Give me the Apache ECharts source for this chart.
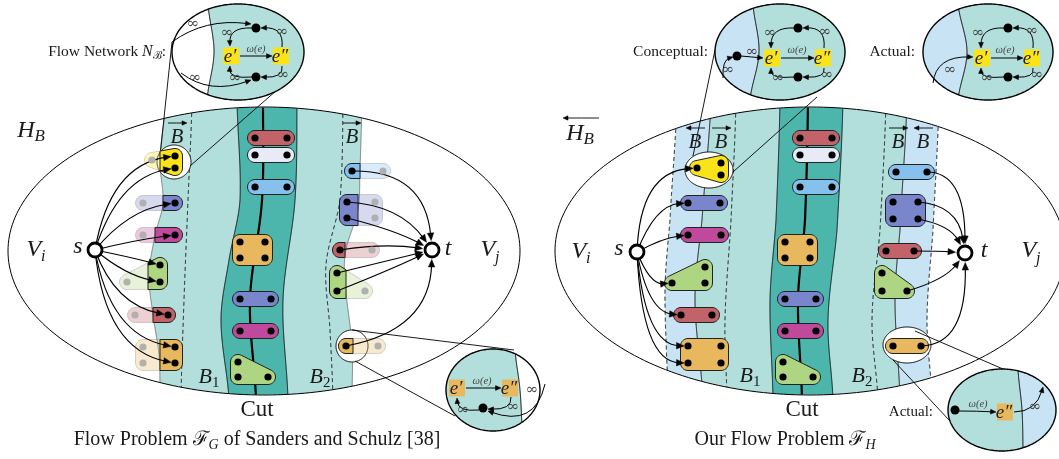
<!DOCTYPE html>
<html><head><meta charset="utf-8">
<script src="https://cdn.jsdelivr.net/npm/echarts@6/dist/echarts.min.js"></script>
<style>html,body{margin:0;padding:0;background:#fff}#c{width:1059px;height:459px}</style>
</head><body><div id="c"></div>
<script>
// ---------------- DATA ----------------
// region ellipses [cx, cy, rx, ry]
const regionEllipses = [[264,251,256,144],[810,251,255,144]];
// band edges: control points [y, x]
const edges = {
  L_tealL: [[100,166],[160,160],[203,163],[235,155],[275,149],[315,153],[355,159],[400,160]],
  L_dash1: [[100,192],[200,188],[300,184],[400,181]],
  L_darkL: [[100,237],[200,240],[260,229],[320,221],[400,229]],
  L_cut:   [[100,263],[200,262],[300,250],[400,256]],
  L_darkR: [[100,297],[200,295],[300,283],[400,288]],
  L_dash2: [[100,343],[200,340],[265,326],[330,330],[400,333]],
  L_tealR: [[100,362],[171,360],[210,358],[250,346],[280,345],[346,352],[400,352]],
  R_blueL: [[100,677],[220,670],[290,665],[400,668]],
  R_solid1:[[100,711],[220,702],[300,695],[400,703]],
  R_dash1: [[100,736],[220,731],[320,725],[400,727]],
  R_darkL: [[100,780],[220,776],[300,770],[400,773]],
  R_cut:   [[100,808],[220,805],[300,798],[400,802]],
  R_darkR: [[100,843],[230,837],[320,828],[400,833]],
  R_dash2: [[100,886],[230,880],[320,872],[400,878]],
  R_solid2:[[100,907],[230,900],[300,895],[400,900]],
  R_blueR: [[100,939],[230,933],[320,927],[400,932]]
};
const bandFills = [[0,'L_tealL','L_tealR','teal'],[0,'L_darkL','L_darkR','dark'],
  [1,'R_blueL','R_solid1','blue'],[1,'R_solid1','R_solid2','teal'],[1,'R_darkL','R_darkR','dark'],[1,'R_solid2','R_blueR','blue']];
const bandLines = [[0,'L_tealL','thin'],[0,'L_dash1','dash'],[0,'L_darkL','solid'],[0,'L_cut','cut'],[0,'L_darkR','solid'],[0,'L_dash2','dash'],[0,'L_tealR','thin'],
  [1,'R_blueL','dash'],[1,'R_solid1','solid'],[1,'R_dash1','dash'],[1,'R_darkL','solid'],[1,'R_cut','cut'],[1,'R_darkR','solid'],[1,'R_dash2','dash'],[1,'R_solid2','solid'],[1,'R_blueR','dash']];

// hyperedges crossing the band border: [color, dots, faded dots, border x, side]
const borderShapes = [
  ['yellow',[[175,156],[175,168]],[[152,160]],160,'>'],
  ['slate',[[175,203]],[[143,203]],163,'>'],
  ['magenta',[[175,235]],[[143,235]],155,'>'],
  ['green',[[160,265],[160,282]],[[127,282]],148,'>'],
  ['red',[[168,315]],[[135,315]],153,'>'],
  ['orange',[[175,347],[175,363]],[[143,347],[143,363]],160,'>'],
  ['sky',[[352,171]],[[383,171]],360,'<'],
  ['slate',[[347,202],[347,218]],[[375,202],[375,218]],358,'<'],
  ['red',[[340,250]],[[372,250]],345,'<'],
  ['green',[[337,273],[337,291]],[[365,291]],346,'<'],
  ['orange',[[346,346]],[[378,346]],353,'<']
];
// hyperedges fully inside: [color, dots]
const midLeft = [
  ['red',[[255,138],[287,138]]],['pale',[[255,155],[287,155]]],['sky',[[255,187],[287,187]]],
  ['orange',[[240,242],[265,242],[240,258],[265,258]]],['slate',[[240,299],[271,299]]],
  ['magenta',[[240,331],[271,331]]],['green',[[238,362],[238,377],[268,377]]]
];
const midRight = [
  ['red',[[800,138],[832,138]]],['pale',[[800,155],[832,155]]],['sky',[[800,187],[832,187]]],
  ['orange',[[785,242],[810,242],[785,258],[810,258]]],['slate',[[785,299],[816,299]]],
  ['magenta',[[785,331],[816,331]]],['green',[[783,362],[783,377],[813,377]]]
];
const sideRight = [
  ['yellow',[[697,168],[721,163],[721,175]]],['slate',[[688,203],[720,203]]],['magenta',[[688,235],[721,235]]],
  ['green',[[672,283],[705,267],[705,283]]],['red',[[681,315],[712,315]]],['orange',[[688,346],[721,346],[688,363],[721,363]]],
  ['sky',[[896,172],[927,172]]],['slate',[[893,202],[918,202],[893,219],[918,219]]],['red',[[886,251],[914,251]]],
  ['green',[[882,273],[882,291],[907,291]]],['orange',[[893,346],[921,346]]]
];
const highlights = [[174,162,17,17],[352,346,16,16],[709,170,24,18],[907,345,24,18]];
const terminals = [[95,250],[432,250],[637,252],[965,253]];
// flow edges [x1,y1,cpx,cpy,x2,y2]
const flowEdges = [
  [95,250,110,165,175,156],[95,250,118,178,175,168],[95,250,128,210,175,203],[95,250,135,240,175,235],
  [95,250,130,257,160,265],[95,250,125,275,160,282],[95,250,115,305,168,315],[95,250,110,335,175,347],[95,250,105,350,175,363],
  [352,171,425,170,432,250],[347,202,400,205,432,250],[347,218,395,230,432,250],[340,250,385,243,432,250],
  [337,273,390,260,432,250],[337,291,390,270,432,250],[346,346,430,330,432,250],
  [637,252,640,172,697,168],[637,252,655,205,688,203],[637,252,662,238,688,235],[637,252,650,285,672,283],
  [637,252,648,312,681,315],[637,252,645,345,688,346],[637,252,642,362,688,363],
  [927,172,965,172,965,253],[918,202,958,205,965,253],[918,219,950,225,965,253],[914,251,940,251,965,253],
  [907,291,945,280,965,253],[921,346,967,345,965,253]
];
const connectors = [[172,42,160,156],[277,90,190,166],[352,330,514,350],[355,361,455,416],
  [715,50,693,156],[817,97,733,172],[915,331,1047,388],[893,360,949,420]];
// zoom ellipses [cx, cy, rx, ry, left colour, right colour, border [y,x]]
const zoomEllipses = [
  [238,52,66,48,'white','teal',[[4,208],[52,214],[100,207]]],
  [780,52,65,48,'blue','teal',[[4,753],[52,759],[100,750]]],
  [988,52,65,48,'blue','teal',[[4,958],[52,967],[100,958]]],
  [493,390,47,41,'teal','white',[[349,515],[390,520],[431,522]]],
  [1002,410,54,41,'teal','blue',[[369,1018],[410,1022],[451,1023]]]
];
const zoomBoxes = [[231,56,'e′','yellow'],[281,56,'e″','yellow'],[772,58,'e′','yellow'],[823,58,'e″','yellow'],
  [982,58,'e′','yellow'],[1032,58,'e″','yellow'],[457,388,'e′','orange'],[510,388,'e″','orange'],[1005,412,'e″','orange']];
const zoomDots = [[256,28],[256,77],[798,28],[798,77],[737,56],[1008,28],[1008,77],[483,408],[955,410]];
const zoomArrows = [
  [240,56,256,56,272,56],[252,28,229,27,230,46],[282,47,284,27,261,28],[252,77,229,79,230,66],[282,66,284,78,261,77],
  [172,42,205,18,251,24],[181,73,210,95,251,80],
  [741,56,752,57,763,58],[781,58,797,58,814,58],[794,28,771,27,771,48],[824,48,826,27,803,28],[794,77,771,79,771,68],[824,68,826,78,803,77],[723,78,722,60,733,57],
  [991,58,1007,58,1023,58],[1004,28,981,27,981,48],[1033,48,1035,27,1013,28],[1004,77,981,79,981,68],[1033,68,1035,78,1013,77],[933,83,936,56,973,57],
  [466,388,483,388,501,388],[511,397,512,410,488,409],[479,410,458,412,457,398],[545,384,535,428,488,411],
  [959,411,977,411,996,412],[1014,412,1036,412,1043,387]
];
const infinities = [[193,24],[227,33],[282,32],[195,78],[235,78],[283,75],[752,52],[728,70],[770,33],[825,32],[778,78],[827,75],
  [978,33],[1032,31],[950,70],[987,78],[1037,75],[532,390],[513,407],[463,410],[1035,407]];
const omegas = [[256,49],[797,50],[1005,50],[482,381],[978,404]];
const overArrows = [[168,187,123,1],[343,361,123,1],[686,705,128,-1],[712,731,128,1],[889,908,128,1],[914,933,128,-1],[563,599,118,-1]];
// labels [x, y, anchor, parts[text, size, italic, dy]]
const mathLabels = [
  [31,131,'c',[['H',24,1,0],['B',17,1,6]]],
  [36,250,'c',[['V',24,1,0],['i',16,1,7]]],
  [78,247,'c',[['s',24,1,0]]],
  [448,249,'c',[['t',24,1,0]]],
  [490,250,'c',[['V',24,1,0],['j',16,1,8]]],
  [209,377,'c',[['B',22,1,0],['1',15,0,6]]],
  [320,377,'c',[['B',22,1,0],['2',15,0,6]]],
  [257,410,'c',[['Cut',23,0,0]]],
  [257,440,'c',[['Flow Problem ',20,0,0],['ℱ',20,0,0],['G',14,1,5],[' of Sanders and Schulz [38]',20,0,0]]],
  [166,52,'r',[['Flow Network ',15.5,0,0],['N',16,1,0],['ℬ',11,0,4],[':',15.5,0,0]]],
  [177,137,'c',[['B',21,1,0]]],
  [352,137,'c',[['B',21,1,0]]],
  [580,134,'c',[['H',24,1,0],['B',17,1,6]]],
  [581,252,'c',[['V',24,1,0],['i',16,1,7]]],
  [619,249,'c',[['s',24,1,0]]],
  [984,251,'c',[['t',24,1,0]]],
  [1031,251,'c',[['V',24,1,0],['j',16,1,8]]],
  [750,376,'c',[['B',22,1,0],['1',15,0,6]]],
  [862,376,'c',[['B',22,1,0],['2',15,0,6]]],
  [802,410,'c',[['Cut',23,0,0]]],
  [785,440,'c',[['Our Flow Problem ',20,0,0],['ℱ',20,0,0],['H',14,1,5]]],
  [708,52,'r',[['Conceptual:',15.5,0,0]]],
  [915,52,'r',[['Actual:',15.5,0,0]]],
  [933,412,'r',[['Actual:',15,0,0]]],
  [695,142,'c',[['B',21,1,0]]],
  [721,142,'c',[['B',21,1,0]]],
  [898,142,'c',[['B',21,1,0]]],
  [923,142,'c',[['B',21,1,0]]]
];

// ---------------- STYLE ----------------
const palette = {teal:'#b2dfdb', dark:'#4db6ac', blue:'#c8e4f4', white:'#ffffff', yellow:'#fbe31a', slate:'#7986cb',
  magenta:'#bf4a9c', green:'#aed581', red:'#c2636a', orange:'#e8b85e', sky:'#85c1ec', pale:'#e8eaf6'};
const lineStyles = {thin:{stroke:'#555',lineWidth:0.7}, solid:{stroke:'#111',lineWidth:1},
  dash:{stroke:'#111',lineWidth:1,lineDash:[4,3]}, cut:{stroke:'#000',lineWidth:2.2}};
const FONT = '"Liberation Serif","DejaVu Serif",serif';
const font = (s,i)=>(i?'italic ':'')+s+'px '+FONT;
const mctx = document.createElement('canvas').getContext('2d');
const tw = (t,s,i)=>{mctx.font=font(s,i);return mctx.measureText(t).width;};

// ---------------- GEOMETRY HELPERS ----------------
function spline(ctrl){
  const n=ctrl.length;
  return function(y){
    if(y<=ctrl[0][0]){const a=ctrl[0],b=ctrl[1];return a[1]+(b[1]-a[1])*(y-a[0])/(b[0]-a[0]);}
    if(y>=ctrl[n-1][0]){const a=ctrl[n-2],b=ctrl[n-1];return b[1]+(b[1]-a[1])*(y-b[0])/(b[0]-a[0]);}
    let i=0;while(i<n-2&&y>ctrl[i+1][0])i++;
    const p0=ctrl[Math.max(i-1,0)],p1=ctrl[i],p2=ctrl[i+1],p3=ctrl[Math.min(i+2,n-1)];
    const t=(y-p1[0])/(p2[0]-p1[0]),t2=t*t,t3=t2*t;
    return 0.5*((2*p1[1])+(-p0[1]+p2[1])*t+(2*p0[1]-5*p1[1]+4*p2[1]-p3[1])*t2+(-p0[1]+3*p1[1]-3*p2[1]+p3[1])*t3);
  };
}
function exr(e,y){const d=(y-e[1])/e[3];if(Math.abs(d)>=1)return null;const w=e[2]*Math.sqrt(1-d*d);return [e[0]-w,e[0]+w];}
function ellipsePts(e){const p=[];for(let k=0;k<240;k++){const a=k/240*2*Math.PI;p.push([e[0]+e[2]*Math.cos(a),e[1]+e[3]*Math.sin(a)]);}return p;}
function bandPts(e,fl,fr){
  const L=[],R=[];
  for(let y=e[1]-e[3];y<=e[1]+e[3];y+=0.5){const r=exr(e,y);if(!r)continue;
    const xl=Math.max(fl?fl(y):-1e9,r[0]),xr=Math.min(fr?fr(y):1e9,r[1]);
    if(xl<xr){L.push([xl,y]);R.push([xr,y]);}}
  return L.concat(R.reverse());
}
function linePts(e,f){const p=[];for(let y=e[1]-e[3];y<=e[1]+e[3];y+=0.5){const r=exr(e,y);if(!r)continue;const x=f(y);if(x>=r[0]&&x<=r[1])p.push([x,y]);}return p;}
function hull(dots,r){
  const pts=[];dots.forEach(([x,y])=>{for(let k=0;k<48;k++){const a=k/48*2*Math.PI;pts.push([x+r*Math.cos(a),y+r*Math.sin(a)]);}});
  pts.sort((a,b)=>a[0]-b[0]||a[1]-b[1]);
  const cr=(o,a,b)=>(a[0]-o[0])*(b[1]-o[1])-(a[1]-o[1])*(b[0]-o[0]);
  const lo=[];for(const p of pts){while(lo.length>=2&&cr(lo[lo.length-2],lo[lo.length-1],p)<=0)lo.pop();lo.push(p);}
  const up=[];for(let i=pts.length-1;i>=0;i--){const p=pts[i];while(up.length>=2&&cr(up[up.length-2],up[up.length-1],p)<=0)up.pop();up.push(p);}
  up.pop();lo.pop();return lo.concat(up);
}
function clipX(poly,xc,keepRight){
  const ins=p=>keepRight?p[0]>=xc:p[0]<=xc;const out=[];
  for(let i=0;i<poly.length;i++){const a=poly[i],b=poly[(i+1)%poly.length],ia=ins(a),ib=ins(b);
    if(ia)out.push(a);if(ia!==ib){const t=(xc-a[0])/(b[0]-a[0]);out.push([xc,a[1]+t*(b[1]-a[1])]);}}
  return out;
}
function arrowEls(api,d,gap,len,wid,lw){
  let [x1,y1,cx,cy,x2,y2]=d;
  let dx=x2-cx,dy=y2-cy;if(Math.hypot(dx,dy)<1){dx=x2-x1;dy=y2-y1;}
  const L=Math.hypot(dx,dy),ux=dx/L,uy=dy/L;
  const tip=[x2-ux*gap,y2-uy*gap],base=[tip[0]-ux*len,tip[1]-uy*len],end=[tip[0]-ux*len*0.6,tip[1]-uy*len*0.6];
  const a=api.coord([x1,y1]),c=api.coord([cx,cy]),e=api.coord(end);
  const head=[tip,[base[0]-uy*wid,base[1]+ux*wid],[base[0]+uy*wid,base[1]-ux*wid]].map(p=>api.coord(p));
  return [{type:'bezierCurve',shape:{x1:a[0],y1:a[1],cpx1:c[0],cpy1:c[1],x2:e[0],y2:e[1]},style:{stroke:'#000',lineWidth:lw,fill:null}},
          {type:'polygon',shape:{points:head},style:{fill:'#000',stroke:'#000',lineWidth:0.5}}];
}
const Ps=(api,pts)=>pts.map(p=>api.coord(p));

function mk(name,items,z,draw){
  return {type:'custom',name,coordinateSystem:'cartesian2d',z,silent:true,clip:false,animation:false,
    data:items.map((_,i)=>[i,0]),renderItem:(params,api)=>draw(items[params.dataIndex],api)};
}

const dotItems = [];
borderShapes.forEach(s=>{s[1].forEach(p=>dotItems.push([p[0],p[1],0]));s[2].forEach(p=>dotItems.push([p[0],p[1],1]));});
midLeft.concat(midRight,sideRight).forEach(s=>s[1].forEach(p=>dotItems.push([p[0],p[1],0])));
const innerShapes = midLeft.concat(midRight,sideRight);
const R = 7.5;

const series = [
  mk('regionFill',regionEllipses,1,(e,api)=>({type:'polygon',shape:{points:Ps(api,ellipsePts(e))},style:{fill:'#fff'}})),
  mk('bands',bandFills,2,(b,api)=>({type:'polygon',shape:{points:Ps(api,bandPts(regionEllipses[b[0]],spline(edges[b[1]]),spline(edges[b[2]])))},style:{fill:palette[b[3]]}})),
  mk('bandLines',bandLines,3,(b,api)=>({type:'polyline',shape:{points:Ps(api,linePts(regionEllipses[b[0]],spline(edges[b[1]])))},style:Object.assign({fill:null},lineStyles[b[2]])})),
  mk('regionStroke',regionEllipses,3,(e,api)=>({type:'polygon',shape:{points:Ps(api,ellipsePts(e))},style:{fill:null,stroke:'#000',lineWidth:1}})),
  mk('highlights',highlights,4,(h,api)=>({type:'polygon',shape:{points:Ps(api,ellipsePts(h))},style:{fill:'#fff',stroke:'#000',lineWidth:1}})),
  mk('connectors',connectors,4,(c,api)=>{const a=api.coord([c[0],c[1]]),b=api.coord([c[2],c[3]]);return {type:'line',shape:{x1:a[0],y1:a[1],x2:b[0],y2:b[1]},style:{stroke:'#000',lineWidth:0.9}};}),
  mk('borderShapes',borderShapes,5,(s,api)=>{
    const full=hull(s[1].concat(s[2]),R);const solid=clipX(full,s[3],s[4]==='>');
    return {type:'group',children:[
      {type:'polygon',shape:{points:Ps(api,full)},style:{fill:palette[s[0]],opacity:0.3,stroke:'#777',lineWidth:1}},
      {type:'polygon',shape:{points:Ps(api,solid)},style:{fill:palette[s[0]],stroke:'#222',lineWidth:1}}]};
  }),
  mk('innerShapes',innerShapes,5,(s,api)=>({type:'polygon',shape:{points:Ps(api,hull(s[1],R))},style:{fill:palette[s[0]],stroke:'#222',lineWidth:1}})),
  mk('flowEdges',flowEdges,6,(d,api)=>{
    const toT=terminals.some(t=>t[0]===d[4]&&t[1]===d[5]);
    return {type:'group',children:arrowEls(api,d,toT?9.5:4,7.5,3.2,1.15)};
  }),
  mk('dots',dotItems,7,(d,api)=>{const c=api.coord([d[0],d[1]]);return {type:'circle',shape:{cx:c[0],cy:c[1],r:3.6},style:{fill:d[2]?'#b0b0b0':'#000'}};}),
  mk('terminals',terminals,7,(t,api)=>{const c=api.coord(t);return {type:'circle',shape:{cx:c[0],cy:c[1],r:7},style:{fill:'#fff',stroke:'#000',lineWidth:2.8}};}),
  mk('zoomEllipses',zoomEllipses,8,(e,api)=>{
    const f=spline(e[6]);
    return {type:'group',children:[
      {type:'polygon',shape:{points:Ps(api,ellipsePts(e))},style:{fill:palette[e[4]]}},
      {type:'polygon',shape:{points:Ps(api,bandPts(e,f,null))},style:{fill:palette[e[5]]}},
      {type:'polyline',shape:{points:Ps(api,linePts(e,f))},style:{stroke:'#000',lineWidth:1,fill:null}},
      {type:'polygon',shape:{points:Ps(api,ellipsePts(e))},style:{fill:null,stroke:'#000',lineWidth:1.4}}]};
  }),
  mk('zoomBoxes',zoomBoxes,9,(b,api)=>{const c=api.coord([b[0],b[1]]);return {type:'group',children:[
    {type:'rect',shape:{x:c[0]-8,y:c[1]-8.5,width:16,height:17},style:{fill:palette[b[3]]}},
    {type:'text',style:{text:b[2],x:c[0]-1,y:c[1]+1,font:font(19,1),fill:'#222',align:'center',verticalAlign:'middle'}}]};}),
  mk('zoomArrows',zoomArrows,9,(d,api)=>({type:'group',children:arrowEls(api,d,0,5.5,2.4,1)})),
  mk('zoomDots',zoomDots,10,(d,api)=>{const c=api.coord(d);return {type:'circle',shape:{cx:c[0],cy:c[1],r:4.5},style:{fill:'#000'}};}),
  mk('infinity',infinities,10,(d,api)=>{const c=api.coord(d);return {type:'text',style:{text:'∞',x:c[0],y:c[1],font:'15px "DejaVu Serif",serif',fill:'#444',align:'center',verticalAlign:'middle'}};}),
  mk('omega',omegas,10,(d,api)=>{const c=api.coord(d);return {type:'text',style:{text:'ω(e)',x:c[0],y:c[1],font:font(10.5,1),fill:'#444',align:'center',verticalAlign:'middle'}};}),
  mk('overArrows',overArrows,10,(a,api)=>{
    const x2=a[3]>0?a[1]:a[0],x1=a[3]>0?a[0]:a[1];
    return {type:'group',children:arrowEls(api,[x1,a[2],(x1+x2)/2,a[2],x2,a[2]],0,5,2.2,0.9)};
  }),
  mk('labels',mathLabels,11,(L,api)=>{
    const parts=L[3],ws=parts.map(p=>tw(p[0],p[1],p[2]));const W=ws.reduce((s,w)=>s+w,0);
    let x=L[2]==='r'?L[0]-W:L[0]-W/2;const ch=[];
    parts.forEach((p,i)=>{const c=api.coord([x,L[1]+p[3]]);
      ch.push({type:'text',style:{text:p[0],x:c[0],y:c[1],font:font(p[1],p[2]),fill:'#1a1a1a',align:'left',verticalAlign:'middle'}});x+=ws[i];});
    return {type:'group',children:ch};
  })
];

const chart = echarts.init(document.getElementById('c'));
chart.setOption({
  animation:false,
  grid:{left:0,right:0,top:0,bottom:0},
  xAxis:{type:'value',min:0,max:1059,show:false},
  yAxis:{type:'value',min:0,max:459,inverse:true,show:false},
  series
});
</script></body></html>
